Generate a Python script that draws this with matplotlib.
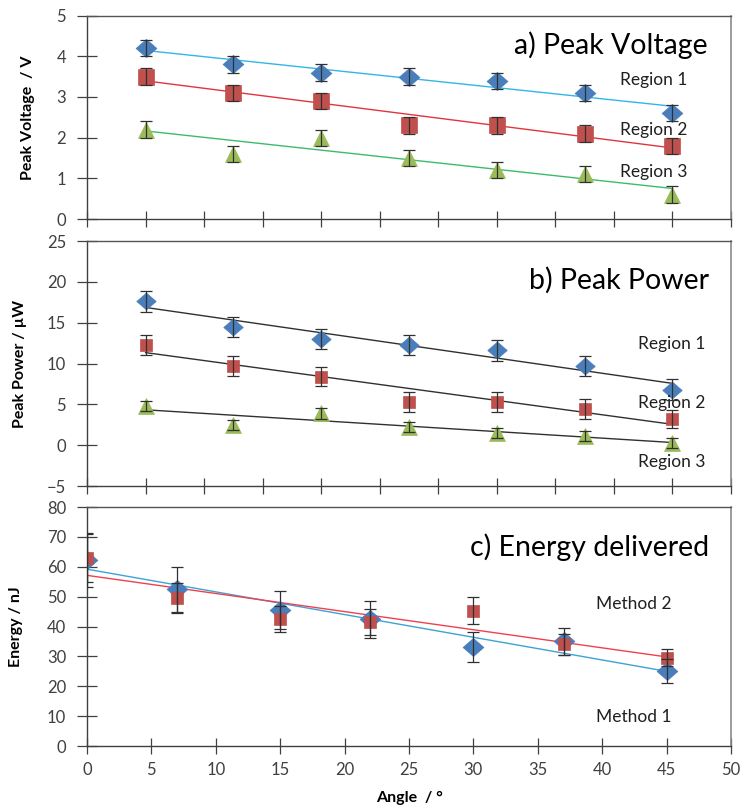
import numpy as np
import matplotlib
matplotlib.use("Agg")
import matplotlib.pyplot as plt

plt.rcParams['font.family'] = ['Lato', 'DejaVu Sans']

# ---------------- data ----------------
# panels a and b share category-like positions on a 0-50 axis
x_ab = [4.55, 11.36, 18.18, 25.0, 31.82, 38.64, 45.45]

volt_r1 = [4.2, 3.8, 3.6, 3.5, 3.4, 3.1, 2.6]
volt_r2 = [3.5, 3.1, 2.9, 2.3, 2.3, 2.1, 1.8]
volt_r3 = [2.2, 1.6, 2.0, 1.5, 1.2, 1.1, 0.6]
volt_err = [0.2, 0.2, 0.2, 0.2, 0.2, 0.2, 0.2]

pow_r1 = [17.6, 14.5, 13.0, 12.3, 11.6, 9.7, 6.8]
pow_r2 = [12.3, 9.7, 8.4, 5.3, 5.3, 4.4, 3.2]
pow_r3 = [4.8, 2.5, 3.9, 2.2, 1.5, 1.1, 0.3]
pow_err1 = [1.3, 1.25, 1.2, 1.25, 1.3, 1.25, 1.25]
pow_err2 = [1.2, 1.2, 1.2, 1.2, 1.2, 1.2, 1.1]
pow_err3 = [0.6, 0.6, 0.7, 0.6, 0.6, 0.6, 0.6]

angles = [0, 7, 15, 22, 30, 37, 45]
energy_m1 = [62.3, 52.5, 45.5, 42.5, 33.0, 35.0, 25.0]
energy_m2 = [62.8, 49.5, 42.5, 41.5, 45.3, 34.0, 29.6]
energy_err1 = [9.0, 7.5, 6.5, 6.2, 5.0, 4.5, 4.0]
energy_err2 = [8.0, 5.0, 4.2, 4.5, 4.6, 3.5, 2.8]

volt_labels = ['Region 1', 'Region 2', 'Region 3']
energy_labels = ['Method 1', 'Method 2']

# ---------------- style ----------------
BLUE = '#4a7ebb'
RED = '#c0504d'
GREEN = '#9bbb59'
TICKC = '#404040'
ERRC = '#303030'

W, H = 744, 805
fig = plt.figure(figsize=(W / 100, H / 100), dpi=100)

def axpos(top, bottom, left=87, right=731):
    return [left / W, 1 - bottom / H, (right - left) / W, (bottom - top) / H]

ax_a = fig.add_axes(axpos(15.6, 219))
ax_b = fig.add_axes(axpos(241, 486))
ax_c = fig.add_axes(axpos(507, 746))

def style(ax, ylim, ystep, xticks, xlabels):
    ax.set_xlim(0, 50)
    ax.set_ylim(*ylim)
    ax.set_yticks(np.arange(ylim[0], ylim[1] + 0.001, ystep))
    ax.set_xticks(xticks)
    if not xlabels:
        ax.set_xticklabels([])
    for s in ['left', 'bottom']:
        ax.spines[s].set_color('#404040')
        ax.spines[s].set_linewidth(1.0)
    ax.spines['top'].set_color('#555555')
    ax.spines['right'].set_color('#8a8a8a')
    ax.spines['top'].set_linewidth(1.0)
    ax.spines['right'].set_linewidth(1.2)
    ax.tick_params(axis='y', direction='inout', length=14, width=0.9,
                   color=TICKC, labelsize=12, labelcolor='#404040', pad=8)
    ax.tick_params(axis='x', direction='inout', length=11, width=0.9,
                   color=TICKC, labelsize=12, labelcolor='#404040', pad=6)

def series(ax, x, y, err, marker, ms, color, line_color, lw=1.0):
    k, b = np.polyfit(x, y, 1)
    xs = np.array([x[0], x[-1]])
    ax.plot(xs, k * xs + b, color=line_color, lw=lw, zorder=2)
    ax.plot(x, y, linestyle='none', marker=marker, ms=ms, mfc=color,
            mec=color, mew=0.5, zorder=3)
    ax.errorbar(x, y, yerr=err, fmt='none', ecolor=ERRC, elinewidth=0.9,
                capsize=4.5, capthick=0.9, zorder=4)

diamond = [(0, 1), (1.15, 0), (0, -1), (-1.15, 0), (0, 1)]

# ---- panel a ----
tick_ab = np.arange(12) * 50 / 11
style(ax_a, (0, 5), 1, tick_ab, False)
series(ax_a, x_ab, volt_r1, volt_err, diamond, 15, BLUE, '#33b6e6')
series(ax_a, x_ab, volt_r2, volt_err, 's', 11.5, RED, '#e0353f')
series(ax_a, x_ab, volt_r3, volt_err, '^', 12, GREEN, '#3dbb6c')
ax_a.text(0.964, 0.855, 'a) Peak Voltage', transform=ax_a.transAxes,
          ha='right', va='center', fontsize=20.5, color='black')
for lab, yy in zip(volt_labels, [0.683, 0.4375, 0.231]):
    ax_a.text(0.828, yy, lab, transform=ax_a.transAxes, ha='left',
              va='center', fontsize=12.5, color='#202020')
ax_a.set_ylabel('Peak Voltage  / V', fontsize=11.5, fontweight='bold')

# ---- panel b ----
style(ax_b, (-5, 25), 5, tick_ab, False)
series(ax_b, x_ab, pow_r1, pow_err1, diamond, 14, BLUE, '#303030')
series(ax_b, x_ab, pow_r2, pow_err2, 's', 9, RED, '#303030')
series(ax_b, x_ab, pow_r3, pow_err3, '^', 11, GREEN, '#303030')
ax_b.text(0.966, 0.841, 'b) Peak Power', transform=ax_b.transAxes,
          ha='right', va='center', fontsize=20.5, color='black')
for lab, yy in zip(volt_labels, [0.58, 0.339, 0.098]):
    ax_b.text(0.856, yy, lab, transform=ax_b.transAxes, ha='left',
              va='center', fontsize=12.5, color='#202020')
ax_b.set_ylabel('Peak Power / µW', fontsize=11.5, fontweight='bold')

# ---- panel c ----
style(ax_c, (0, 80), 10, np.arange(0, 51, 5), True)
series(ax_c, angles, energy_m1, energy_err1, diamond, 15, BLUE, '#3ea3d3')
series(ax_c, angles, energy_m2, energy_err2, 's', 8.5, RED, '#f0404e')
ax_c.text(0.966, 0.833, 'c) Energy delivered', transform=ax_c.transAxes,
          ha='right', va='center', fontsize=20.5, color='black')
ax_c.text(0.79, 0.121, energy_labels[0], transform=ax_c.transAxes,
          ha='left', va='center', fontsize=12.5, color='#202020')
ax_c.text(0.79, 0.594, energy_labels[1], transform=ax_c.transAxes,
          ha='left', va='center', fontsize=12.5, color='#202020')
ax_c.set_ylabel('Energy / nJ', fontsize=11.5, fontweight='bold')
ax_c.set_xlabel('Angle  / °', fontsize=11.5, fontweight='bold', labelpad=9)

# place y labels at measured figure x positions
for ax, xp in [(ax_a, 35), (ax_b, 27), (ax_c, 23)]:
    ax.yaxis.set_label_coords(
        xp / W, 0.5,
        transform=matplotlib.transforms.blended_transform_factory(fig.transFigure, ax.transAxes))

fig.savefig('out.png', dpi=100)
